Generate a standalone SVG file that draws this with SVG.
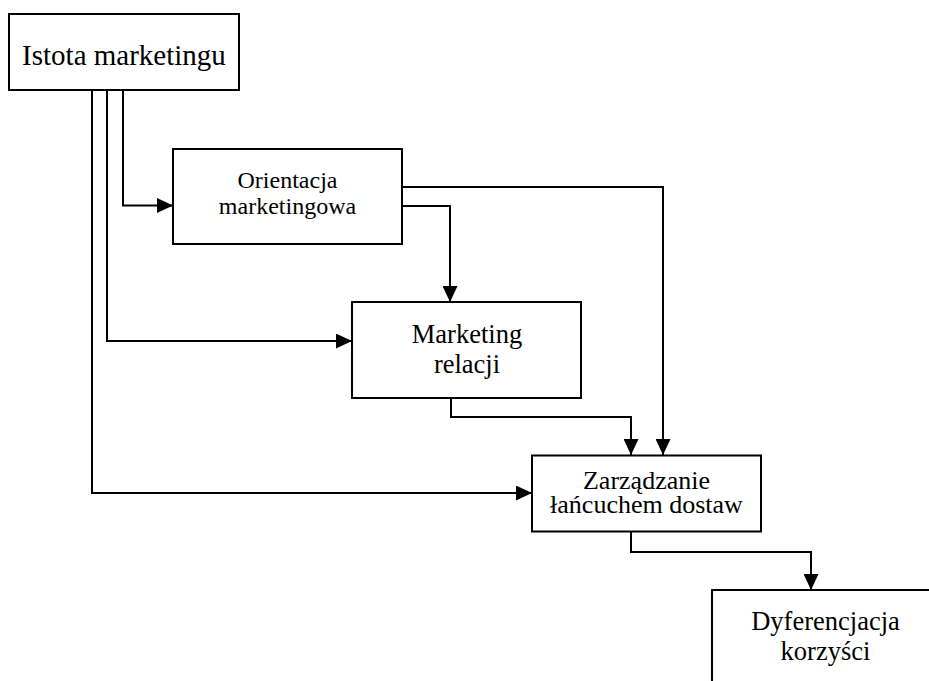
<svg xmlns="http://www.w3.org/2000/svg" width="929" height="681" viewBox="0 0 929 681">
<style>
.box{fill:#fff;stroke:#000;stroke-width:2}
.t{font-family:"Liberation Serif","Times New Roman",serif;fill:#000;text-anchor:middle}
.c{fill:none;stroke:#000;stroke-width:2;marker-end:url(#arr)}
</style>
<defs>
<marker id="arr" markerUnits="userSpaceOnUse" markerWidth="16" markerHeight="15" refX="16" refY="7.5" orient="auto">
<path d="M0,0 L16,7.5 L0,15 z" fill="#000"/>
</marker>
</defs>
<rect width="929" height="681" fill="#fff"/>
<g id="connectors">
<path class="c" d="M123,90 V205.5 H173"/>
<path class="c" d="M107,90 V341 H352"/>
<path class="c" d="M92,90 V493 H532"/>
<path class="c" d="M402,206 H450 V302"/>
<path class="c" d="M402,187 H663 V455"/>
<path class="c" d="M451,398 V417 H631 V455"/>
<path class="c" d="M631,532 V552 H811 V590"/>
</g>
<g id="istota">
<rect class="box" x="9" y="14" width="230" height="76"/>
<text class="t" x="124" y="65" font-size="29">Istota marketingu</text>
</g>
<g id="orientacja">
<rect class="box" x="173" y="149" width="229" height="95"/>
<text class="t" x="287.5" y="188" font-size="24">Orientacja</text>
<text class="t" x="287.5" y="214" font-size="24">marketingowa</text>
</g>
<g id="marketing">
<rect class="box" x="352" y="302" width="229" height="96"/>
<text class="t" x="467" y="343" font-size="26.5">Marketing</text>
<text class="t" x="467" y="373" font-size="26.5">relacji</text>
</g>
<g id="zarzadzanie">
<rect class="box" x="532" y="455.5" width="229" height="76"/>
<text class="t" x="646.5" y="489" font-size="26">Zarządzanie</text>
<text class="t" x="646.5" y="513" font-size="26">łańcuchem dostaw</text>
</g>
<g id="dyferencjacja">
<rect class="box" x="712" y="590" width="240" height="110"/>
<text class="t" x="825.5" y="630" font-size="26.5">Dyferencjacja</text>
<text class="t" x="825.5" y="660" font-size="26.5">korzyści</text>
</g>
</svg>
